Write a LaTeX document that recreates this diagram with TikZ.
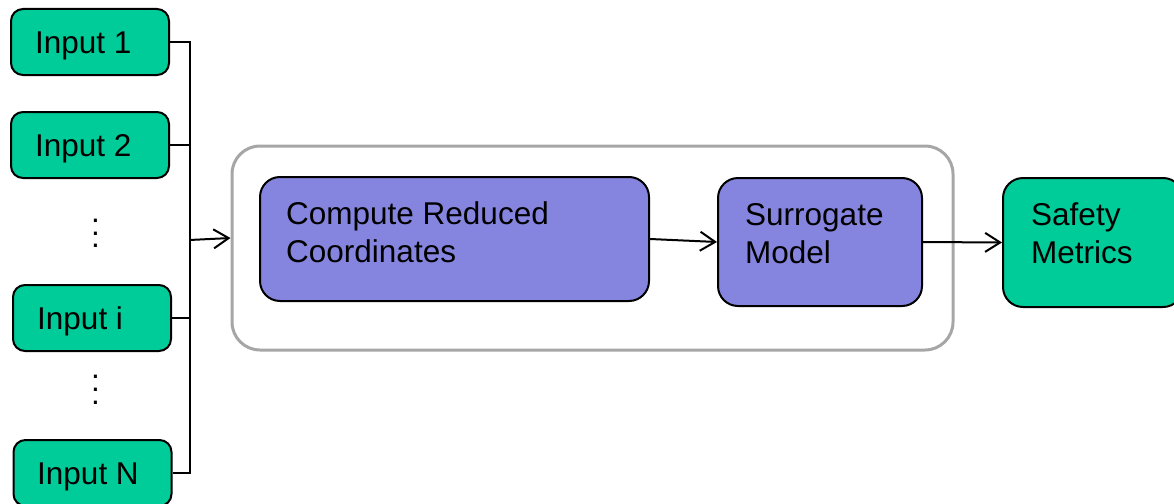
\documentclass[tikz,border=0pt]{standalone}
\usepackage{fontspec}
\setmainfont{Liberation Sans}
\usetikzlibrary{arrows.meta}
\definecolor{ingreen}{RGB}{0,204,153}
\definecolor{procblue}{RGB}{133,133,224}
\definecolor{framegray}{RGB}{166,166,166}
\newcommand{\boxfont}{\fontsize{31.5}{38}\selectfont}
\tikzset{
  inbox/.style={draw=black, line width=2pt, fill=ingreen, rounded corners=12pt,
    minimum width=158pt, minimum height=66pt, inner sep=0pt},
  procbox/.style={draw=black, line width=2pt, fill=procblue, rounded corners=20pt, inner sep=0pt},
  outbox/.style={draw=black, line width=2pt, fill=ingreen, rounded corners=20pt, inner sep=0pt},
  framebox/.style={draw=framegray, line width=3pt, rounded corners=28pt, inner sep=0pt},
  txt/.style={anchor=base west, inner sep=0pt, align=left, font=\boxfont},
  dotcol/.style={inner sep=0pt, align=center, font=\fontsize{31.5}{12.8}\selectfont},
  wire/.style={draw=black, line width=2pt},
  arr/.style={wire, -{Straight Barb[length=15pt,width=19pt,line width=2pt]}},
}
\begin{document}
\begin{tikzpicture}[x=1pt, y=-1pt]
\useasboundingbox (0,0) rectangle (1174,503);

% input boxes
\node[inbox] (in1) at (90,42) {};
\node[inbox] (in2) at (90,145) {};
\node[inbox] (ini) at (92,318) {};
\node[inbox] (inN) at (92.5,473) {};
\node[txt] (t1) at (35,53.3) {Input 1};
\node[txt] (t2) at (35,156.3) {Input 2};
\node[txt] (ti) at (37,329.3) {Input i};
\node[txt] (tN) at (37,484.3) {Input N};
\node[dotcol] (dots1) at (95.5,233.5) {.\\.\\.};
\node[dotcol] (dots2) at (95.5,390) {.\\.\\.};

% processing frame and blocks
\node[framebox, minimum width=721pt, minimum height=204pt] (frame) at (592.5,248) {};
\node[procbox, minimum width=389pt, minimum height=124pt] (reduce) at (454.5,239) {};
\node[procbox, minimum width=204pt, minimum height=128pt] (surr) at (820,242) {};
\node[outbox, minimum width=180pt, minimum height=129pt] (safety) at (1093,242.5) {};
% multi-line labels: the base anchor sits on the last line
\node[txt] (treduce) at (286,262) {Compute Reduced\\Coordinates};
\node[txt] (tsurr) at (745,263.5) {Surrogate\\Model};
\node[txt] (tsafety) at (1031,263.5) {Safety\\Metrics};

% collecting bus
\coordinate (busbot) at (189.5,473);
\coordinate (tap) at (189.5,240);
\draw[wire] (in1.east) -| (busbot) -- (inN.east);
\draw[wire] (in2.east) -- (in2.east -| busbot);
\draw[wire] (ini.east) -- (ini.east -| busbot);

% flow arrows
\draw[arr] (tap) -- ([yshift=10pt]frame.west);
\draw[arr] (reduce.east) -- (surr.west);
\draw[arr] (surr.east) -- (safety.west);
\end{tikzpicture}
\end{document}
